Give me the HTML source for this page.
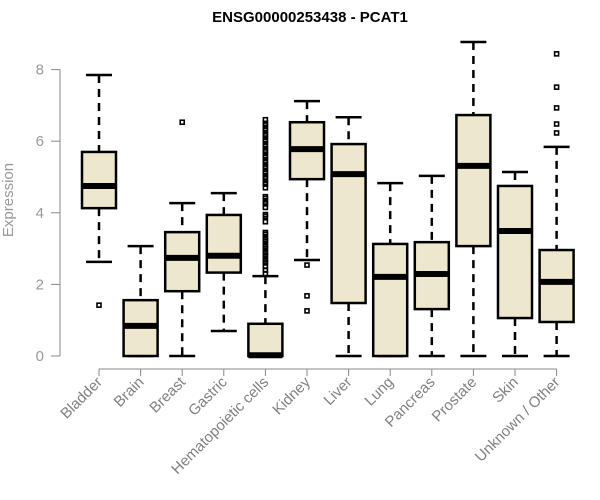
<!DOCTYPE html>
<html><head><meta charset="utf-8"><style>
body{margin:0;background:#fff;}
svg{display:block;font-family:"Liberation Sans",sans-serif;}
</style></head><body>
<svg id="chart" width="600" height="500" xmlns="http://www.w3.org/2000/svg">
<text x="310" y="22" text-anchor="middle" font-weight="bold" font-size="15">ENSG00000253438 - PCAT1</text>
<text transform="translate(13,200) rotate(-90)" text-anchor="middle" font-size="15" fill="#999">Expression</text>
<g id="axes"></g><g id="plot"></g>
</svg>
<script>
const categories=["Bladder","Brain","Breast","Gastric","Hematopoietic cells","Kidney","Liver","Lung","Pancreas","Prostate","Skin","Unknown / Other"];
const whiskerLow=[2.63,0,0,0.7,0,2.68,0,0,0,0,0,0];
const q1=[4.13,0,1.81,2.33,0,4.94,1.48,0,1.31,3.07,1.06,0.95];
const medians=[4.75,0.84,2.74,2.8,0.02,5.78,5.08,2.21,2.29,5.31,3.49,2.07];
const q3=[5.7,1.56,3.46,3.94,0.9,6.53,5.92,3.13,3.18,6.73,4.75,2.96];
const whiskerHigh=[7.85,3.07,4.27,4.55,2.23,7.12,6.67,4.83,5.03,8.77,5.14,5.84];
const outliers=[[1.42],[],[6.53],[],
[2.3,2.4,2.5,2.6,2.65,2.7,2.8,2.85,2.9,3.0,3.05,3.1,3.2,3.25,3.3,3.4,3.45,3.75,3.9,3.95,4.15,4.25,4.3,4.4,4.45,4.7,4.8,4.85,4.95,5.0,5.1,5.15,5.25,5.3,5.4,5.45,5.55,5.6,5.7,5.75,5.85,5.9,6.0,6.05,6.15,6.2,6.3,6.35,6.45,6.5,6.6],
[2.54,1.68,1.26],[],[],[],[],[],[8.44,7.51,6.93,6.48,6.23]];
const yTicks=[0,2,4,6,8];
const NS="http://www.w3.org/2000/svg";
const yS=v=>356-v*35.8;
const xS=i=>99+i*41.6;
function mk(tag,attrs,parent){const e=document.createElementNS(NS,tag);for(const k in attrs)e.setAttribute(k,attrs[k]);parent.appendChild(e);return e;}
const axes=document.getElementById('axes'),plot=document.getElementById('plot');
let ya=mk('line',{x1:60,x2:60,y1:yS(8),y2:yS(0),stroke:'#888'},axes);


yTicks.forEach(t=>{
 const l=mk('line',{x1:51,x2:60,y1:yS(t),y2:yS(t),stroke:'#888'},axes);
 
 
 const tx=mk('text',{x:44,y:yS(t)+5,'text-anchor':'end','font-size':15,fill:'#999'},axes);
 tx.textContent=t;
 
 
});
let xa=mk('line',{x1:xS(0),x2:xS(categories.length-1),y1:369,y2:369,stroke:'#888'},axes);


categories.forEach((c,i)=>{
 const x=xS(i);
 const l=mk('line',{x1:x,x2:x,y1:369,y2:376,stroke:'#888'},axes);
 
 
 const tx=mk('text',{transform:`translate(${x+4},${383}) rotate(-45)`,'text-anchor':'end','font-size':15,fill:'#808080'},axes);
 tx.textContent=c;
 
 
 const g=mk('g',{},plot);
 
 
 const w=17,cw=13;
 mk('line',{x1:x,x2:x,y1:yS(whiskerHigh[i]),y2:yS(q3[i]),stroke:'#000','stroke-width':2.5,'stroke-dasharray':'8,6'},g);
 mk('line',{x1:x,x2:x,y1:yS(q1[i]),y2:yS(whiskerLow[i]),stroke:'#000','stroke-width':2.5,'stroke-dasharray':'8,6'},g);
 mk('line',{x1:x-cw,x2:x+cw,y1:yS(whiskerHigh[i]),y2:yS(whiskerHigh[i]),stroke:'#000','stroke-width':2.5},g);
 mk('line',{x1:x-cw,x2:x+cw,y1:yS(whiskerLow[i]),y2:yS(whiskerLow[i]),stroke:'#000','stroke-width':2.5},g);
 mk('rect',{x:x-w,y:yS(q3[i]),width:2*w,height:yS(q1[i])-yS(q3[i]),fill:'#ede7cd',stroke:'#000','stroke-width':2.5},g);
 mk('line',{x1:x-w,x2:x+w,y1:yS(medians[i]),y2:yS(medians[i]),stroke:'#000','stroke-width':6},g);
 outliers[i].forEach(v=>{
  const r=mk('rect',{x:x-2,y:yS(v)-2,width:4,height:4,fill:'none',stroke:'#000','stroke-width':1.6},g);
  
  
 });
});
</script>
</body></html>
